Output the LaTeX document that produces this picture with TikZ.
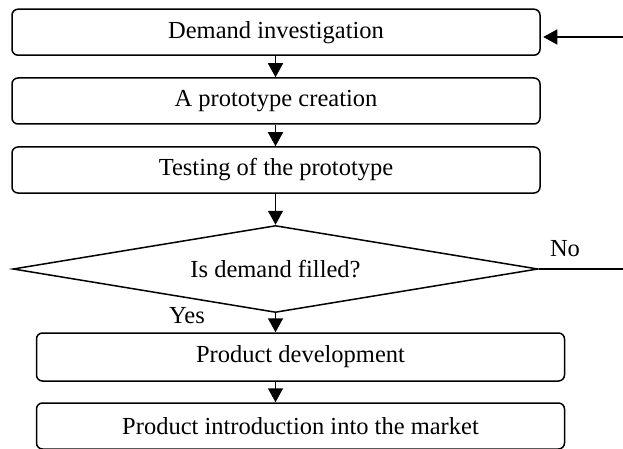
\documentclass[tikz,border=0pt]{standalone}
\usepackage{fontspec}
\setmainfont{Liberation Serif}
\usetikzlibrary{shapes.geometric,arrows.meta}
\begin{document}
\begin{tikzpicture}[x=1pt,y=-1pt,
  font=\fontsize{24.5}{28}\selectfont,
  stepbox/.style={draw,line width=1.5pt,rounded corners=6pt,minimum width=528pt,minimum height=46pt,inner sep=0pt},
  decision/.style={draw,line width=1.5pt,diamond,aspect=6.03,minimum width=525pt,minimum height=87pt,inner sep=0pt},
  arr/.style={line width=1.5pt,-{Triangle[length=14pt,width=15pt]}},
  plain/.style={line width=1.5pt}]
\useasboundingbox (0,0) rectangle (623,449);
\node[stepbox] (b1) at (276,32.2) {Demand investigation};
\node[stepbox] (b2) at (276,101) {A prototype creation};
\node[stepbox] (b3) at (276,170) {Testing of the prototype};
\node[decision] (d) at (275.5,269) {Is demand filled?};
\node[stepbox,minimum height=48pt] (b4) at (300.5,357) {Product development};
\node[stepbox] (b5) at (300.5,426) {Product introduction into the market};
\coordinate (in) at (623,37);
\coordinate (noend) at (623,269);
\draw[arr] (b1.south -| d.north) -- (b2.north -| d.north);
\draw[arr] (b2.south -| d.north) -- (b3.north -| d.north);
\draw[arr] (b3.south -| d.north) -- (d.north);
\draw[arr] (d.south) -- (d.south |- b4.north);
\draw[arr] (d.south |- b4.south) -- (d.south |- b5.north);
\draw[arr,shorten >=2.5pt] (in) -- (in -| b1.east);
\draw[plain] (d.east) -- (noend);
\node (no) at (565,249) {No};
\node (yes) at (187,316) {Yes};
\end{tikzpicture}
\end{document}
